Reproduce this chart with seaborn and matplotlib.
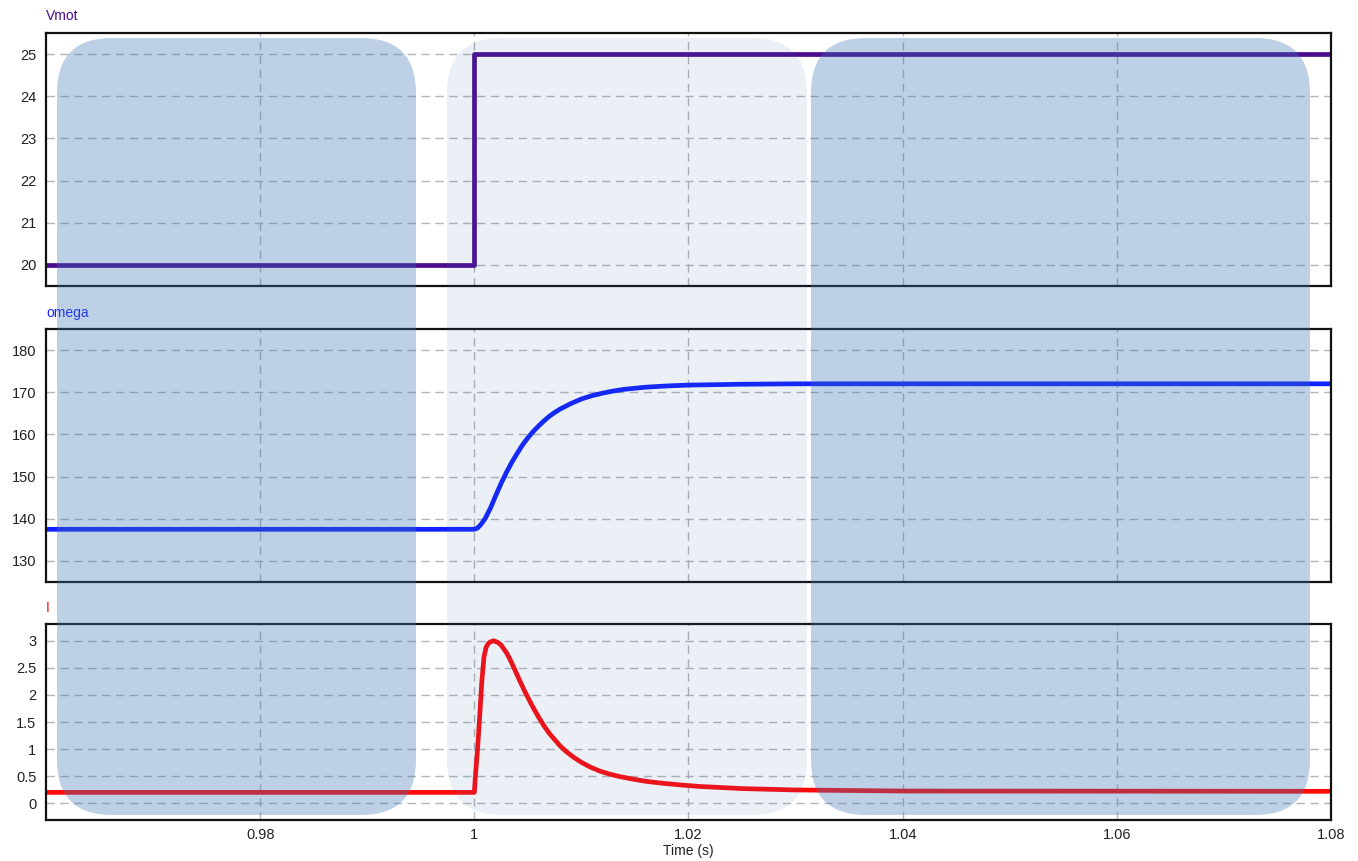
import matplotlib
matplotlib.use("Agg")
import matplotlib.pyplot as plt
import numpy as np
import pandas as pd
import seaborn as sns
from matplotlib.patches import FancyBboxPatch

# values
t_vmot = [0.96, 1.0, 1.0, 1.08]
vmot = [20, 20, 25, 25]

t_omega = [0.96, 1.0, 1.0003, 1.0006, 1.001, 1.0015, 1.002, 1.0025, 1.003, 1.0035,
           1.004, 1.0045, 1.005, 1.0055, 1.006, 1.0065, 1.007, 1.0075, 1.008, 1.009,
           1.010, 1.011, 1.012, 1.013, 1.014, 1.016, 1.018, 1.020, 1.025, 1.03, 1.08]
omega = [137.5, 137.5, 137.8, 138.6, 140.0, 142.5, 145.5, 148.4, 151.0, 153.4,
         155.5, 157.5, 159.2, 160.7, 162.0, 163.2, 164.3, 165.2, 166.0, 167.3,
         168.4, 169.2, 169.8, 170.3, 170.7, 171.2, 171.5, 171.7, 171.9, 172.0, 172.0]

t_cur = [0.96, 1.0, 1.0001, 1.0003, 1.0005, 1.0007, 1.0009, 1.0011, 1.0013, 1.0015,
         1.0018, 1.0022, 1.0025, 1.0030, 1.0033, 1.0037, 1.0042, 1.0047, 1.0054,
         1.0060, 1.0065, 1.0070, 1.0075, 1.0080, 1.0086, 1.0093, 1.0100, 1.0108,
         1.0117, 1.0125, 1.0135, 1.0148, 1.0160, 1.0175, 1.0194, 1.021, 1.023,
         1.025, 1.03, 1.04, 1.08]
cur = [0.2, 0.2, 0.5, 1.0, 1.6, 2.25, 2.7, 2.88, 2.95, 2.98,
       3.0, 2.97, 2.92, 2.78, 2.67, 2.5, 2.28, 2.07, 1.80,
       1.59, 1.43, 1.29, 1.175, 1.06, 0.95, 0.845, 0.755, 0.67,
       0.595, 0.545, 0.495, 0.445, 0.405, 0.37, 0.335, 0.31, 0.29,
       0.27, 0.245, 0.225, 0.22]

xticks = [0.98, 1.0, 1.02, 1.04, 1.06, 1.08]
xticklabels = ["0.98", "1", "1.02", "1.04", "1.06", "1.08"]

df_v = pd.DataFrame({"t": t_vmot, "v": vmot})
df_w = pd.DataFrame({"t": t_omega, "v": omega})
df_i = pd.DataFrame({"t": t_cur, "v": cur})

sns.set_theme(style="white")
plt.rcParams["font.family"] = ["Liberation Sans", "DejaVu Sans"]

W, H = 1358, 861
fig = plt.figure(figsize=(W / 100, H / 100), dpi=100)

def px_axes(top, bottom, left=46, right=1331):
    return fig.add_axes([left / W, 1 - bottom / H, (right - left) / W, (bottom - top) / H])

panels = [
    (33, 286, df_v, "#4b0a8f", "Vmot", (19.5, 25.5), [20, 21, 22, 23, 24, 25], ["20", "21", "22", "23", "24", "25"]),
    (329, 582, df_w, "#1020ff", "omega", (125, 185), [130, 140, 150, 160, 170, 180], ["130", "140", "150", "160", "170", "180"]),
    (624, 820, df_i, "#ff0a0a", "I", (-0.31, 3.31), [0, 0.5, 1, 1.5, 2, 2.5, 3], ["0", "0.5", "1", "1.5", "2", "2.5", "3"]),
]

axes = []
for top, bottom, d, col, name, ylim, yt, ytl in panels:
    ax = px_axes(top, bottom)
    sns.lineplot(data=d, x="t", y="v", ax=ax, color=col, linewidth=3.4,
                 estimator=None, sort=False)
    ax.set_xlim(0.96, 1.08)
    ax.set_ylim(*ylim)
    ax.set_yticks(yt)
    ax.set_yticklabels(ytl)
    ax.set_xticks(xticks)
    ax.grid(True, color="#b4b4b4", linestyle=(0, (6, 4)), linewidth=1.0)
    ax.tick_params(length=0, labelsize=10.5, colors="#222222", pad=7)
    for s in ax.spines.values():
        s.set_color("#111111")
        s.set_linewidth(1.6)
    ax.set_ylabel("")
    ax.set_xlabel("")
    ax.set_title(name, loc="left", color=col, fontsize=10, pad=9, x=0.0)
    axes.append(ax)

for ax in axes[:2]:
    ax.set_xticklabels([])
axes[2].set_xticklabels(xticklabels)
axes[2].tick_params(axis="x", pad=6)
axes[2].set_xlabel("Time (s)", fontsize=10, color="#222222", labelpad=1)

# rounded translucent highlight boxes over all three panels (pixel positions)
boxes = [(57, 416, 0.34), (447, 807, 0.11), (811, 1310, 0.34)]
for x0, x1, a in boxes:
    p = FancyBboxPatch((x0 / 100, (H - 815) / 100), (x1 - x0) / 100, (815 - 38) / 100,
                       boxstyle="round,pad=0,rounding_size=0.55",
                       transform=fig.dpi_scale_trans, facecolor="#4177b5",
                       edgecolor="none", alpha=a, zorder=5)
    fig.add_artist(p)

fig.savefig("out.png", dpi=100)
